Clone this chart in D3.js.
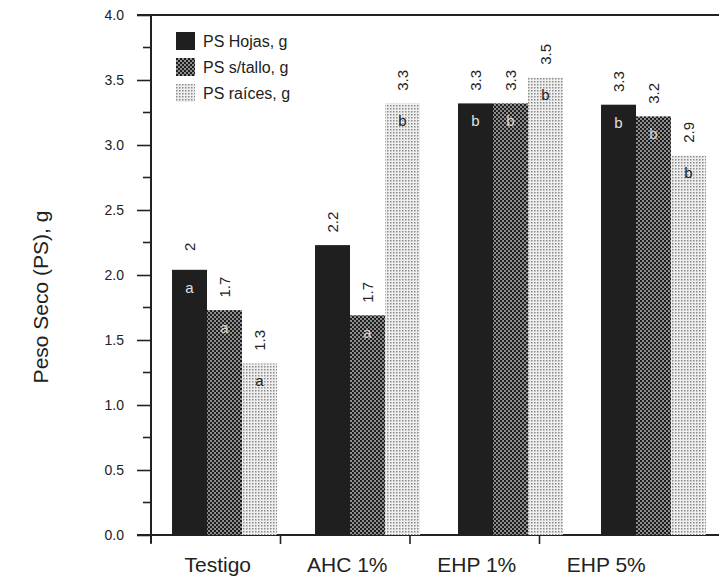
<!DOCTYPE html>
<html>
<head>
<meta charset="utf-8">
<script src="https://cdn.jsdelivr.net/npm/d3@7"></script>
<style>
  body { margin: 0; background: #fff; }
  svg { display: block; font-family: "Liberation Sans", Arial, sans-serif; }
</style>
</head>
<body>
<svg id="chart" width="719" height="576"></svg>
<script>
const categories = ["Testigo", "AHC 1%", "EHP 1%", "EHP 5%"];
const series = ["PS Hojas, g", "PS s/tallo, g", "PS raíces, g"];
const hojas = [2.04, 2.23, 3.32, 3.31];
const tallo = [1.73, 1.69, 3.32, 3.22];
const raices = [1.32, 3.32, 3.52, 2.92];
const valueLabels = [["2", "2.2", "3.3", "3.3"], ["1.7", "1.7", "3.3", "3.2"], ["1.3", "3.3", "3.5", "2.9"]];
const letters = [["a", "", "b", "b"], ["a", "a", "b", "b"], ["a", "b", "b", "b"]];
const yTicks = [0, 0.5, 1, 1.5, 2, 2.5, 3, 3.5, 4];

const values = [hojas, tallo, raices];
const svg = d3.select("#chart");
const width = 719, height = 576;

// patterns for the three grey fills
const defs = svg.append("defs");
const pMed = defs.append("pattern").attr("id", "pmed")
  .attr("width", 4).attr("height", 4).attr("patternUnits", "userSpaceOnUse");
pMed.append("rect").attr("width", 4).attr("height", 4).attr("fill", "#8e8e8e");
pMed.append("rect").attr("width", 2).attr("height", 2).attr("fill", "#1c1c1c");
pMed.append("rect").attr("x", 2).attr("y", 2).attr("width", 2).attr("height", 2).attr("fill", "#1c1c1c");

const pLight = defs.append("pattern").attr("id", "plight")
  .attr("width", 3).attr("height", 3).attr("patternUnits", "userSpaceOnUse");
pLight.append("rect").attr("width", 3).attr("height", 3).attr("fill", "#eeeeee");
pLight.append("rect").attr("width", 1.5).attr("height", 1.5).attr("fill", "#8a8a8a");

const fills = ["#1f1f1f", "url(#pmed)", "url(#plight)"];
const letterColors = ["#e0e0e0", "#d8d8d8", "#222"];

const y = d3.scaleLinear().domain([0, 4]).range([535, 15]);

// axis bands (ticks at band edges) and bar groups (scan is a bit skewed)
const xAxisBand = d3.scaleBand().domain(categories).range([151, 669]);
const xGroup = d3.scaleBand().domain(categories).range([151, 727])
  .paddingInner(0.266).paddingOuter(0.147);
const xSub = d3.scaleBand().domain(d3.range(series.length)).range([0, xGroup.bandwidth()]);

// frame lines
svg.append("line").attr("x1", 137).attr("x2", width).attr("y1", 15).attr("y2", 15)
  .attr("stroke", "#222").attr("stroke-width", 2);
svg.append("line").attr("x1", 137).attr("x2", width).attr("y1", 535).attr("y2", 535)
  .attr("stroke", "#222").attr("stroke-width", 2);

// y axis
const yAxis = d3.axisLeft(y).tickValues(yTicks).tickFormat(d3.format(".1f")).tickSize(14).tickPadding(13);
const gy = svg.append("g").attr("transform", "translate(151,0)").call(yAxis);
gy.select(".domain").attr("stroke", "#222").attr("stroke-width", 2).attr("d", "M0,15V543");
gy.selectAll(".tick line").attr("stroke", "#222").attr("stroke-width", 1.6);
gy.selectAll(".tick text").attr("font-size", 14).attr("fill", "#222");
const minor = d3.range(0.25, 4, 0.5);
gy.selectAll(".minor").data(minor).join("line").attr("class", "minor")
  .attr("x1", -8).attr("x2", 0).attr("y1", d => y(d)).attr("y2", d => y(d))
  .attr("stroke", "#222").attr("stroke-width", 1.6);

// x axis ticks + labels
const gx = svg.append("g");
gx.selectAll("line").data(categories).join("line")
  .attr("x1", d => xAxisBand(d)).attr("x2", d => xAxisBand(d))
  .attr("y1", 535).attr("y2", 544).attr("stroke", "#222").attr("stroke-width", 1.6);
gx.selectAll("text").data(categories).join("text")
  .attr("x", d => xAxisBand(d) + xAxisBand.bandwidth() / 2 + 2)
  .attr("y", 572).attr("text-anchor", "middle").attr("font-size", 21).attr("fill", "#222")
  .text(d => d);

// bars
const bars = [];
values.forEach((vals, s) => vals.forEach((v, i) => bars.push({ s, cat: categories[i], v, lab: valueLabels[s][i], let: letters[s][i] })));

const gb = svg.append("g");
gb.selectAll("rect").data(bars).join("rect")
  .attr("x", d => xGroup(d.cat) + xSub(d.s))
  .attr("width", xSub.bandwidth())
  .attr("y", d => y(d.v))
  .attr("height", d => y(0) - y(d.v))
  .attr("fill", d => fills[d.s]);

gb.selectAll("text.val").data(bars).join("text").attr("class", "val")
  .attr("transform", d => `translate(${xGroup(d.cat) + xSub(d.s) + xSub.bandwidth() / 2},${y(d.v) - 23}) rotate(-90)`)
  .attr("text-anchor", "middle").attr("dy", "0.35em").attr("font-size", 15).attr("fill", "#222")
  .text(d => d.lab);

gb.selectAll("text.let").data(bars.filter(d => d.let)).join("text").attr("class", "let")
  .attr("x", d => xGroup(d.cat) + xSub(d.s) + xSub.bandwidth() / 2)
  .attr("y", d => y(d.v) + 23)
  .attr("text-anchor", "middle").attr("font-size", 15).attr("fill", d => letterColors[d.s])
  .text(d => d.let);

// legend
const lg = svg.append("g").attr("transform", "translate(176,32)");
const li = lg.selectAll("g").data(series).join("g").attr("transform", (d, i) => `translate(0,${i * 26})`);
li.append("rect").attr("width", 19).attr("height", 18).attr("fill", (d, i) => fills[i]);
li.append("text").attr("x", 27).attr("y", 15).attr("font-size", 16).attr("fill", "#222").text(d => d);

// y title
svg.append("text").attr("transform", "translate(48,297) rotate(-90)")
  .attr("text-anchor", "middle").attr("font-size", 21).attr("fill", "#222")
  .text("Peso Seco (PS), g");
</script>
</body>
</html>
